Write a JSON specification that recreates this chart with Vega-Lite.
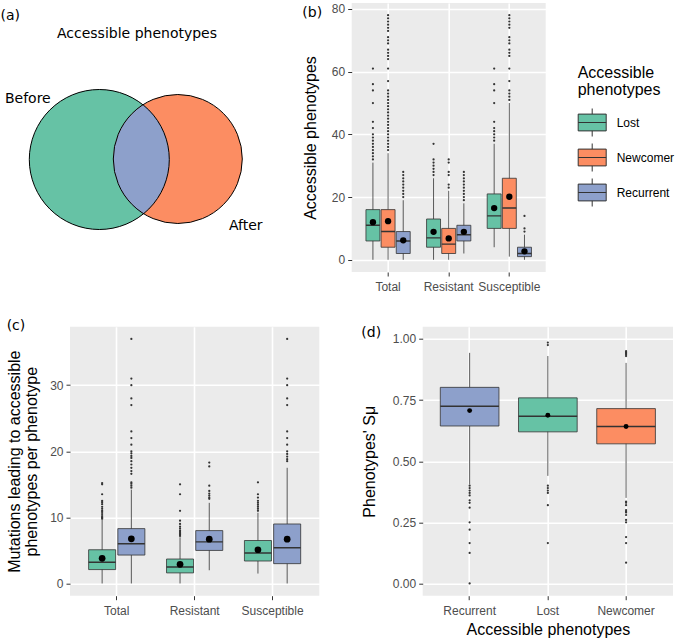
{
  "$schema": "https://vega.github.io/schema/vega-lite/v6.json",
  "background": "white",
  "padding": {"left": 0, "top": 2, "right": 0, "bottom": 0},
  "bounds": "flush",
  "spacing": 323.7,
  "resolve": {"scale": {"color": "independent", "x": "independent", "y": "independent", "size": "independent", "xOffset": "independent"}, "legend": {"color": "independent"}},
  "config": {
    "view": {"fill": "#EBEBEB", "stroke": null},
    "font": "Liberation Sans",
    "axis": {
      "domain": false,
      "tickColor": "#333333",
      "tickSize": 4,
      "tickWidth": 1,
      "labelColor": "#4D4D4D",
      "labelFont": "Liberation Sans",
      "labelFontSize": 12,
      "labelPadding": 3,
      "titleFont": "Liberation Sans",
      "titleFontSize": 16,
      "titleFontWeight": "normal",
      "titleColor": "black",
      "gridColor": "white"
    },
    "axisX": {"labelPadding": 5},
    "title": {"font": "DejaVu Sans", "fontSize": 14, "fontWeight": "normal", "color": "black", "anchor": "start", "frame": "bounds"}
  },
  "datasets": {
    "venn": [
      {"set": "Before", "cx": 0, "cy": 0, "r": 1},
      {"set": "After", "cx": 1.1214, "cy": 0.0071, "r": 0.9214}
    ],
    "venn_labels": [
      {"label": "Accessible phenotypes", "tx": 0.5386, "ty": 1.7929},
      {"label": "Before", "tx": -1.0214, "ty": 0.8643},
      {"label": "After", "tx": 2.0929, "ty": -0.95}
    ],
    "b_box": [
      {"category": "Total", "group": "Lost", "lower": 0, "q1": 6, "median": 11, "q3": 16, "upper": 31, "mean": 12.0},
      {"category": "Total", "group": "Newcomer", "lower": 0, "q1": 4, "median": 9, "q3": 16, "upper": 34, "mean": 12.3},
      {"category": "Total", "group": "Recurrent", "lower": 0, "q1": 2, "median": 6, "q3": 9, "upper": 19, "mean": 6.2},
      {"category": "Resistant", "group": "Lost", "lower": 0, "q1": 4, "median": 7, "q3": 13, "upper": 26, "mean": 8.9},
      {"category": "Resistant", "group": "Newcomer", "lower": 0, "q1": 2, "median": 5, "q3": 10, "upper": 22, "mean": 6.8},
      {"category": "Resistant", "group": "Recurrent", "lower": 2, "q1": 6, "median": 8, "q3": 11, "upper": 18, "mean": 8.9},
      {"category": "Susceptible", "group": "Lost", "lower": 4, "q1": 10, "median": 14, "q3": 21, "upper": 37, "mean": 16.5},
      {"category": "Susceptible", "group": "Newcomer", "lower": 1, "q1": 10, "median": 16.5, "q3": 26, "upper": 50, "mean": 20.1},
      {"category": "Susceptible", "group": "Recurrent", "lower": 0, "q1": 1, "median": 2, "q3": 4, "upper": 8, "mean": 2.7}
    ],
    "b_out": [
      {"category": "Total", "group": "Lost", "value": 32}, {"category": "Total", "group": "Lost", "value": 33}, {"category": "Total", "group": "Lost", "value": 34}, {"category": "Total", "group": "Lost", "value": 35}, {"category": "Total", "group": "Lost", "value": 36}, {"category": "Total", "group": "Lost", "value": 37}, {"category": "Total", "group": "Lost", "value": 38}, {"category": "Total", "group": "Lost", "value": 39}, {"category": "Total", "group": "Lost", "value": 40}, {"category": "Total", "group": "Lost", "value": 42}, {"category": "Total", "group": "Lost", "value": 44}, {"category": "Total", "group": "Lost", "value": 50}, {"category": "Total", "group": "Lost", "value": 54}, {"category": "Total", "group": "Lost", "value": 56}, {"category": "Total", "group": "Lost", "value": 61},
      {"category": "Total", "group": "Newcomer", "value": 35}, {"category": "Total", "group": "Newcomer", "value": 36}, {"category": "Total", "group": "Newcomer", "value": 37}, {"category": "Total", "group": "Newcomer", "value": 38}, {"category": "Total", "group": "Newcomer", "value": 39}, {"category": "Total", "group": "Newcomer", "value": 40}, {"category": "Total", "group": "Newcomer", "value": 41}, {"category": "Total", "group": "Newcomer", "value": 42}, {"category": "Total", "group": "Newcomer", "value": 43}, {"category": "Total", "group": "Newcomer", "value": 44}, {"category": "Total", "group": "Newcomer", "value": 45}, {"category": "Total", "group": "Newcomer", "value": 46}, {"category": "Total", "group": "Newcomer", "value": 47}, {"category": "Total", "group": "Newcomer", "value": 48}, {"category": "Total", "group": "Newcomer", "value": 49}, {"category": "Total", "group": "Newcomer", "value": 50}, {"category": "Total", "group": "Newcomer", "value": 51}, {"category": "Total", "group": "Newcomer", "value": 52}, {"category": "Total", "group": "Newcomer", "value": 53}, {"category": "Total", "group": "Newcomer", "value": 54}, {"category": "Total", "group": "Newcomer", "value": 57}, {"category": "Total", "group": "Newcomer", "value": 61}, {"category": "Total", "group": "Newcomer", "value": 64}, {"category": "Total", "group": "Newcomer", "value": 65}, {"category": "Total", "group": "Newcomer", "value": 66}, {"category": "Total", "group": "Newcomer", "value": 67}, {"category": "Total", "group": "Newcomer", "value": 69}, {"category": "Total", "group": "Newcomer", "value": 70}, {"category": "Total", "group": "Newcomer", "value": 71}, {"category": "Total", "group": "Newcomer", "value": 73}, {"category": "Total", "group": "Newcomer", "value": 74}, {"category": "Total", "group": "Newcomer", "value": 75}, {"category": "Total", "group": "Newcomer", "value": 76}, {"category": "Total", "group": "Newcomer", "value": 77}, {"category": "Total", "group": "Newcomer", "value": 78},
      {"category": "Total", "group": "Recurrent", "value": 20}, {"category": "Total", "group": "Recurrent", "value": 21}, {"category": "Total", "group": "Recurrent", "value": 22}, {"category": "Total", "group": "Recurrent", "value": 23}, {"category": "Total", "group": "Recurrent", "value": 24}, {"category": "Total", "group": "Recurrent", "value": 25}, {"category": "Total", "group": "Recurrent", "value": 26}, {"category": "Total", "group": "Recurrent", "value": 27}, {"category": "Total", "group": "Recurrent", "value": 28},
      {"category": "Resistant", "group": "Lost", "value": 27}, {"category": "Resistant", "group": "Lost", "value": 28}, {"category": "Resistant", "group": "Lost", "value": 29}, {"category": "Resistant", "group": "Lost", "value": 30}, {"category": "Resistant", "group": "Lost", "value": 31}, {"category": "Resistant", "group": "Lost", "value": 32}, {"category": "Resistant", "group": "Lost", "value": 37},
      {"category": "Resistant", "group": "Newcomer", "value": 23}, {"category": "Resistant", "group": "Newcomer", "value": 24}, {"category": "Resistant", "group": "Newcomer", "value": 27}, {"category": "Resistant", "group": "Newcomer", "value": 28}, {"category": "Resistant", "group": "Newcomer", "value": 31}, {"category": "Resistant", "group": "Newcomer", "value": 32},
      {"category": "Resistant", "group": "Recurrent", "value": 19}, {"category": "Resistant", "group": "Recurrent", "value": 20}, {"category": "Resistant", "group": "Recurrent", "value": 21}, {"category": "Resistant", "group": "Recurrent", "value": 22}, {"category": "Resistant", "group": "Recurrent", "value": 23}, {"category": "Resistant", "group": "Recurrent", "value": 24}, {"category": "Resistant", "group": "Recurrent", "value": 25}, {"category": "Resistant", "group": "Recurrent", "value": 26}, {"category": "Resistant", "group": "Recurrent", "value": 27}, {"category": "Resistant", "group": "Recurrent", "value": 28},
      {"category": "Susceptible", "group": "Lost", "value": 38}, {"category": "Susceptible", "group": "Lost", "value": 39}, {"category": "Susceptible", "group": "Lost", "value": 40}, {"category": "Susceptible", "group": "Lost", "value": 41}, {"category": "Susceptible", "group": "Lost", "value": 42}, {"category": "Susceptible", "group": "Lost", "value": 44}, {"category": "Susceptible", "group": "Lost", "value": 50}, {"category": "Susceptible", "group": "Lost", "value": 54}, {"category": "Susceptible", "group": "Lost", "value": 56}, {"category": "Susceptible", "group": "Lost", "value": 61},
      {"category": "Susceptible", "group": "Newcomer", "value": 51}, {"category": "Susceptible", "group": "Newcomer", "value": 52}, {"category": "Susceptible", "group": "Newcomer", "value": 53}, {"category": "Susceptible", "group": "Newcomer", "value": 54}, {"category": "Susceptible", "group": "Newcomer", "value": 57}, {"category": "Susceptible", "group": "Newcomer", "value": 61}, {"category": "Susceptible", "group": "Newcomer", "value": 65}, {"category": "Susceptible", "group": "Newcomer", "value": 66}, {"category": "Susceptible", "group": "Newcomer", "value": 67}, {"category": "Susceptible", "group": "Newcomer", "value": 69}, {"category": "Susceptible", "group": "Newcomer", "value": 70}, {"category": "Susceptible", "group": "Newcomer", "value": 71}, {"category": "Susceptible", "group": "Newcomer", "value": 74}, {"category": "Susceptible", "group": "Newcomer", "value": 75}, {"category": "Susceptible", "group": "Newcomer", "value": 76}, {"category": "Susceptible", "group": "Newcomer", "value": 77}, {"category": "Susceptible", "group": "Newcomer", "value": 78},
      {"category": "Susceptible", "group": "Recurrent", "value": 9}, {"category": "Susceptible", "group": "Recurrent", "value": 10}, {"category": "Susceptible", "group": "Recurrent", "value": 14}
    ],
    "c_box": [
      {"category": "Total", "group": "Lost", "lower": 0, "q1": 2.1, "median": 3.2, "q3": 5.1, "upper": 9.7, "mean": 3.8},
      {"category": "Total", "group": "Recurrent", "lower": 0, "q1": 4.3, "median": 6.0, "q3": 8.3, "upper": 14.2, "mean": 6.75},
      {"category": "Resistant", "group": "Lost", "lower": 0, "q1": 1.6, "median": 2.5, "q3": 3.7, "upper": 7.0, "mean": 2.9},
      {"category": "Resistant", "group": "Recurrent", "lower": 2.0, "q1": 5.0, "median": 6.3, "q3": 8.0, "upper": 12.2, "mean": 6.7},
      {"category": "Susceptible", "group": "Lost", "lower": 1.5, "q1": 3.4, "median": 4.6, "q3": 6.5, "upper": 10.7, "mean": 5.1},
      {"category": "Susceptible", "group": "Recurrent", "lower": 0, "q1": 3.0, "median": 5.4, "q3": 9.0, "upper": 17.5, "mean": 6.7}
    ],
    "c_out": [
      {"category": "Total", "group": "Lost", "value": 9.8}, {"category": "Total", "group": "Lost", "value": 10.0}, {"category": "Total", "group": "Lost", "value": 10.2}, {"category": "Total", "group": "Lost", "value": 10.5}, {"category": "Total", "group": "Lost", "value": 10.8}, {"category": "Total", "group": "Lost", "value": 11.0}, {"category": "Total", "group": "Lost", "value": 11.3}, {"category": "Total", "group": "Lost", "value": 11.6}, {"category": "Total", "group": "Lost", "value": 12.0}, {"category": "Total", "group": "Lost", "value": 12.3}, {"category": "Total", "group": "Lost", "value": 12.5}, {"category": "Total", "group": "Lost", "value": 13.5}, {"category": "Total", "group": "Lost", "value": 15.0}, {"category": "Total", "group": "Lost", "value": 15.2},
      {"category": "Total", "group": "Recurrent", "value": 14.5}, {"category": "Total", "group": "Recurrent", "value": 14.8}, {"category": "Total", "group": "Recurrent", "value": 15.1}, {"category": "Total", "group": "Recurrent", "value": 15.3}, {"category": "Total", "group": "Recurrent", "value": 16.6}, {"category": "Total", "group": "Recurrent", "value": 17.0}, {"category": "Total", "group": "Recurrent", "value": 17.5}, {"category": "Total", "group": "Recurrent", "value": 18.0}, {"category": "Total", "group": "Recurrent", "value": 18.5}, {"category": "Total", "group": "Recurrent", "value": 19.0}, {"category": "Total", "group": "Recurrent", "value": 19.3}, {"category": "Total", "group": "Recurrent", "value": 19.7}, {"category": "Total", "group": "Recurrent", "value": 20.0}, {"category": "Total", "group": "Recurrent", "value": 21.0}, {"category": "Total", "group": "Recurrent", "value": 22.0}, {"category": "Total", "group": "Recurrent", "value": 23.0}, {"category": "Total", "group": "Recurrent", "value": 27.0}, {"category": "Total", "group": "Recurrent", "value": 28.0}, {"category": "Total", "group": "Recurrent", "value": 30.0}, {"category": "Total", "group": "Recurrent", "value": 31.0}, {"category": "Total", "group": "Recurrent", "value": 37.0},
      {"category": "Resistant", "group": "Lost", "value": 7.2}, {"category": "Resistant", "group": "Lost", "value": 7.4}, {"category": "Resistant", "group": "Lost", "value": 7.6}, {"category": "Resistant", "group": "Lost", "value": 7.8}, {"category": "Resistant", "group": "Lost", "value": 8.0}, {"category": "Resistant", "group": "Lost", "value": 8.3}, {"category": "Resistant", "group": "Lost", "value": 8.6}, {"category": "Resistant", "group": "Lost", "value": 9.0}, {"category": "Resistant", "group": "Lost", "value": 9.5}, {"category": "Resistant", "group": "Lost", "value": 11.0}, {"category": "Resistant", "group": "Lost", "value": 13.5}, {"category": "Resistant", "group": "Lost", "value": 15.0},
      {"category": "Resistant", "group": "Recurrent", "value": 12.8}, {"category": "Resistant", "group": "Recurrent", "value": 13.0}, {"category": "Resistant", "group": "Recurrent", "value": 13.3}, {"category": "Resistant", "group": "Recurrent", "value": 13.6}, {"category": "Resistant", "group": "Recurrent", "value": 14.0}, {"category": "Resistant", "group": "Recurrent", "value": 14.8}, {"category": "Resistant", "group": "Recurrent", "value": 17.7}, {"category": "Resistant", "group": "Recurrent", "value": 18.3},
      {"category": "Susceptible", "group": "Lost", "value": 11.0}, {"category": "Susceptible", "group": "Lost", "value": 11.3}, {"category": "Susceptible", "group": "Lost", "value": 11.6}, {"category": "Susceptible", "group": "Lost", "value": 11.9}, {"category": "Susceptible", "group": "Lost", "value": 12.2}, {"category": "Susceptible", "group": "Lost", "value": 12.5}, {"category": "Susceptible", "group": "Lost", "value": 13.0}, {"category": "Susceptible", "group": "Lost", "value": 13.5}, {"category": "Susceptible", "group": "Lost", "value": 15.3},
      {"category": "Susceptible", "group": "Recurrent", "value": 18.5}, {"category": "Susceptible", "group": "Recurrent", "value": 18.8}, {"category": "Susceptible", "group": "Recurrent", "value": 19.2}, {"category": "Susceptible", "group": "Recurrent", "value": 19.6}, {"category": "Susceptible", "group": "Recurrent", "value": 20.0}, {"category": "Susceptible", "group": "Recurrent", "value": 21.0}, {"category": "Susceptible", "group": "Recurrent", "value": 22.0}, {"category": "Susceptible", "group": "Recurrent", "value": 23.0}, {"category": "Susceptible", "group": "Recurrent", "value": 27.0}, {"category": "Susceptible", "group": "Recurrent", "value": 28.0}, {"category": "Susceptible", "group": "Recurrent", "value": 30.0}, {"category": "Susceptible", "group": "Recurrent", "value": 31.0}, {"category": "Susceptible", "group": "Recurrent", "value": 37.0}
    ],
    "d_box": [
      {"group": "Recurrent", "lower": 0.405, "q1": 0.644, "median": 0.725, "q3": 0.802, "upper": 0.943, "mean": 0.707},
      {"group": "Lost", "lower": 0.44, "q1": 0.62, "median": 0.684, "q3": 0.759, "upper": 0.93, "mean": 0.688},
      {"group": "Newcomer", "lower": 0.35, "q1": 0.571, "median": 0.642, "q3": 0.715, "upper": 0.902, "mean": 0.642}
    ],
    "d_out": [
      {"group": "Recurrent", "value": 0.40}, {"group": "Recurrent", "value": 0.39}, {"group": "Recurrent", "value": 0.38}, {"group": "Recurrent", "value": 0.37}, {"group": "Recurrent", "value": 0.36}, {"group": "Recurrent", "value": 0.34}, {"group": "Recurrent", "value": 0.33}, {"group": "Recurrent", "value": 0.31}, {"group": "Recurrent", "value": 0.25}, {"group": "Recurrent", "value": 0.22}, {"group": "Recurrent", "value": 0.165}, {"group": "Recurrent", "value": 0.125}, {"group": "Recurrent", "value": 0.0},
      {"group": "Lost", "value": 0.975}, {"group": "Lost", "value": 0.985}, {"group": "Lost", "value": 0.40}, {"group": "Lost", "value": 0.39}, {"group": "Lost", "value": 0.38}, {"group": "Lost", "value": 0.37}, {"group": "Lost", "value": 0.32}, {"group": "Lost", "value": 0.165},
      {"group": "Newcomer", "value": 0.93}, {"group": "Newcomer", "value": 0.935}, {"group": "Newcomer", "value": 0.94}, {"group": "Newcomer", "value": 0.945}, {"group": "Newcomer", "value": 0.95}, {"group": "Newcomer", "value": 0.335}, {"group": "Newcomer", "value": 0.33}, {"group": "Newcomer", "value": 0.32}, {"group": "Newcomer", "value": 0.30}, {"group": "Newcomer", "value": 0.295}, {"group": "Newcomer", "value": 0.29}, {"group": "Newcomer", "value": 0.28}, {"group": "Newcomer", "value": 0.26}, {"group": "Newcomer", "value": 0.25}, {"group": "Newcomer", "value": 0.19}, {"group": "Newcomer", "value": 0.165}, {"group": "Newcomer", "value": 0.085}
    ]
  },
  "vconcat": [
    {
      "bounds": "flush",
      "spacing": 102.7,
      "resolve": {"scale": {"color": "independent", "x": "independent", "y": "independent", "size": "independent", "xOffset": "independent"}, "legend": {"color": "independent"}},
      "hconcat": [
        {
          "title": {"text": "(a)", "offset": -20, "dx": -4.4},
          "width": 178.6,
          "height": 269,
          "view": {"fill": null, "stroke": null},
          "layer": [
            {
              "data": {"name": "venn"},
              "mark": {"type": "point", "shape": "circle", "filled": true, "opacity": 1, "strokeWidth": 0},
              "encoding": {
                "x": {"field": "cx", "type": "quantitative", "scale": {"domain": [-0.4186, 2.1329], "nice": false, "zero": false}, "axis": null},
                "y": {"field": "cy", "type": "quantitative", "scale": {"domain": [-1.6071, 2.2357], "nice": false, "zero": false}, "axis": null},
                "size": {"field": "r", "type": "quantitative", "scale": {"type": "pow", "exponent": 2, "domain": [0, 1], "range": [0, 19600]}, "legend": null},
                "color": {"field": "set", "type": "nominal", "scale": {"domain": ["Before", "After"], "range": ["#66C2A5", "#FC8D62"]}, "legend": null}
              }
            },
            {
              "data": {"values": [{"part": "Before and After", "cx": 0.628, "cy": 0.0036}]},
              "mark": {"type": "point", "shape": "M0,-54.48A64.5,64.5,0,0,0,0,54.48A70,70,0,0,0,0,-54.48Z", "size": 4, "filled": true, "fill": "#8DA0CB", "opacity": 1, "strokeWidth": 0},
              "encoding": {
                "x": {"field": "cx", "type": "quantitative", "scale": {"domain": [-0.4186, 2.1329], "nice": false, "zero": false}, "axis": null},
                "y": {"field": "cy", "type": "quantitative", "scale": {"domain": [-1.6071, 2.2357], "nice": false, "zero": false}, "axis": null}
              }
            },
            {
              "data": {"name": "venn"},
              "mark": {"type": "point", "shape": "circle", "filled": false, "color": "black", "strokeWidth": 1, "opacity": 1},
              "encoding": {
                "x": {"field": "cx", "type": "quantitative", "scale": {"domain": [-0.4186, 2.1329], "nice": false, "zero": false}, "axis": null},
                "y": {"field": "cy", "type": "quantitative", "scale": {"domain": [-1.6071, 2.2357], "nice": false, "zero": false}, "axis": null},
                "size": {"field": "r", "type": "quantitative", "scale": {"type": "pow", "exponent": 2, "domain": [0, 1], "range": [0, 19600]}, "legend": null}
              }
            },
            {
              "data": {"name": "venn_labels"},
              "mark": {"type": "text", "font": "DejaVu Sans", "fontSize": 14, "color": "black", "align": "center", "baseline": "middle"},
              "encoding": {
                "x": {"field": "tx", "type": "quantitative", "scale": {"domain": [-0.4186, 2.1329], "nice": false, "zero": false}, "axis": null},
                "y": {"field": "ty", "type": "quantitative", "scale": {"domain": [-1.6071, 2.2357], "nice": false, "zero": false}, "axis": null},
                "text": {"field": "label", "type": "nominal"}
              }
            }
          ]
        },
        {
          "title": {"text": "(b)", "offset": -17},
          "width": 194,
          "height": 269,
          "encoding": {
            "x": {"field": "category", "type": "nominal", "title": null, "scale": {"domain": ["Total", "Resistant", "Susceptible"], "paddingInner": 0.25, "paddingOuter": 0.225},
                  "axis": {"bandPosition": 0.5, "grid": true, "gridWidth": 1.6, "labelAngle": 0}},
            "xOffset": {"field": "group", "type": "nominal", "scale": {"domain": ["Lost", "Newcomer", "Recurrent"], "paddingInner": 0.08, "paddingOuter": 0.04}}
          },
          "layer": [
            {
              "data": {"name": "b_box"},
              "mark": {"type": "rule", "color": "#333333", "strokeWidth": 0.8},
              "encoding": {
                "y": {"field": "lower", "type": "quantitative", "title": "Accessible phenotypes",
                      "scale": {"domain": [-3.9, 81.9], "nice": false, "zero": false},
                      "axis": {"values": [0, 10, 20, 30, 40, 50, 60, 70, 80], "titlePadding": 13,
                               "labelExpr": "datum.value % 20 === 0 ? datum.label : ''",
                               "gridWidth": {"condition": {"test": "datum.value % 20 === 0", "value": 1.6}, "value": 0.7},
                               "tickOpacity": {"condition": {"test": "datum.value % 20 === 0", "value": 1}, "value": 0}}},
                "y2": {"field": "upper"}
              }
            },
            {
              "data": {"name": "b_box"},
              "mark": {"type": "bar", "stroke": "#333333", "strokeWidth": 0.8, "opacity": 1},
              "encoding": {
                "y": {"field": "q1", "type": "quantitative", "title": "Accessible phenotypes"},
                "y2": {"field": "q3"},
                "color": {"field": "group", "type": "nominal",
                          "scale": {"domain": ["Lost", "Newcomer", "Recurrent"], "range": ["#66C2A5", "#FC8D62", "#8DA0CB"]},
                          "legend": {"orient": "none", "legendX": 226, "legendY": 62, "title": ["Accessible", "phenotypes"],
                                     "titleFont": "Liberation Sans", "titleFontSize": 16, "titleFontWeight": "normal", "titleColor": "black",
                                     "titleLineHeight": 17, "titlePadding": 10,
                                     "labelFont": "Liberation Sans", "labelFontSize": 12, "labelColor": "black", "labelOffset": 10,
                                     "symbolType": "M-1,-0.6H1V0.6H-1Z M-1,0H1 M0,-1V-0.6 M0,0.6V1",
                                     "symbolSize": 784, "symbolStrokeColor": "#333333", "symbolStrokeWidth": 1, "symbolOpacity": 1,
                                     "rowPadding": 2}}
              }
            },
            {
              "data": {"name": "b_box"},
              "mark": {"type": "bar", "fillOpacity": 0, "stroke": "#333333", "strokeWidth": 1.4},
              "encoding": {
                "y": {"field": "median", "type": "quantitative", "title": "Accessible phenotypes"},
                "y2": {"field": "median"}
              }
            },
            {
              "data": {"name": "b_out"},
              "mark": {"type": "point", "filled": true, "color": "#333333", "size": 5, "opacity": 1},
              "encoding": {
                "y": {"field": "value", "type": "quantitative", "title": "Accessible phenotypes"}
              }
            },
            {
              "data": {"name": "b_box"},
              "mark": {"type": "point", "filled": true, "color": "black", "size": 40, "opacity": 1},
              "encoding": {
                "y": {"field": "mean", "type": "quantitative", "title": "Accessible phenotypes"}
              }
            }
          ]
        }
      ]
    },
    {
      "bounds": "flush",
      "spacing": 102.7,
      "resolve": {"scale": {"color": "independent", "x": "independent", "y": "independent", "xOffset": "independent"}, "legend": {"color": "independent"}},
      "hconcat": [
        {
          "title": {"text": "(c)", "offset": -6},
          "width": 249.3,
          "height": 269,
          "encoding": {
            "x": {"field": "category", "type": "nominal", "title": null, "scale": {"domain": ["Total", "Resistant", "Susceptible"], "paddingInner": 0.25, "paddingOuter": 0.225},
                  "axis": {"bandPosition": 0.5, "grid": true, "gridWidth": 1.6, "labelAngle": 0, "labelPadding": 6}},
            "xOffset": {"field": "group", "type": "nominal", "scale": {"domain": ["Lost", "Recurrent"], "paddingInner": 0.075, "paddingOuter": 0.0375}}
          },
          "layer": [
            {
              "data": {"name": "c_box"},
              "mark": {"type": "rule", "color": "#333333", "strokeWidth": 0.8},
              "encoding": {
                "y": {"field": "lower", "type": "quantitative", "title": ["Mutations leading to accessible", "phenotypes per phenotype"],
                      "scale": {"domain": [-1.85, 38.85], "nice": false, "zero": false},
                      "axis": {"values": [0, 5, 10, 15, 20, 25, 30, 35], "titlePadding": 10, "titleLineHeight": 17,
                               "labelExpr": "datum.value % 10 === 0 ? datum.label : ''",
                               "gridWidth": {"condition": {"test": "datum.value % 10 === 0", "value": 1.6}, "value": 0.7},
                               "tickOpacity": {"condition": {"test": "datum.value % 10 === 0", "value": 1}, "value": 0}}},
                "y2": {"field": "upper"}
              }
            },
            {
              "data": {"name": "c_box"},
              "mark": {"type": "bar", "stroke": "#333333", "strokeWidth": 0.8, "opacity": 1},
              "encoding": {
                "y": {"field": "q1", "type": "quantitative", "title": ["Mutations leading to accessible", "phenotypes per phenotype"]},
                "y2": {"field": "q3"},
                "color": {"field": "group", "type": "nominal",
                          "scale": {"domain": ["Lost", "Recurrent"], "range": ["#66C2A5", "#8DA0CB"]}, "legend": null}
              }
            },
            {
              "data": {"name": "c_box"},
              "mark": {"type": "bar", "fillOpacity": 0, "stroke": "#333333", "strokeWidth": 1.4},
              "encoding": {
                "y": {"field": "median", "type": "quantitative", "title": ["Mutations leading to accessible", "phenotypes per phenotype"]},
                "y2": {"field": "median"}
              }
            },
            {
              "data": {"name": "c_out"},
              "mark": {"type": "point", "filled": true, "color": "#333333", "size": 5, "opacity": 1},
              "encoding": {
                "y": {"field": "value", "type": "quantitative", "title": ["Mutations leading to accessible", "phenotypes per phenotype"]}
              }
            },
            {
              "data": {"name": "c_box"},
              "mark": {"type": "point", "filled": true, "color": "black", "size": 45, "opacity": 1},
              "encoding": {
                "y": {"field": "mean", "type": "quantitative", "title": ["Mutations leading to accessible", "phenotypes per phenotype"]}
              }
            }
          ]
        },
        {
          "title": {"text": "(d)", "offset": -13},
          "width": 250.3,
          "height": 269,
          "encoding": {
            "x": {"field": "group", "type": "nominal", "title": "Accessible phenotypes", "scale": {"domain": ["Recurrent", "Lost", "Newcomer"], "paddingInner": 0.25, "paddingOuter": 0.225},
                  "axis": {"bandPosition": 0.5, "grid": true, "gridWidth": 1.6, "labelAngle": 0, "labelPadding": 6, "titlePadding": 5}}
          },
          "layer": [
            {
              "data": {"name": "d_box"},
              "mark": {"type": "rule", "color": "#333333", "strokeWidth": 0.8},
              "encoding": {
                "y": {"field": "lower", "type": "quantitative", "title": "Phenotypes' Sμ",
                      "scale": {"domain": [-0.05, 1.05], "nice": false, "zero": false},
                      "axis": {"values": [0, 0.125, 0.25, 0.375, 0.5, 0.625, 0.75, 0.875, 1], "format": ".2f", "titlePadding": 15,
                               "labelExpr": "round(datum.value * 8) % 2 === 0 ? datum.label : ''",
                               "gridWidth": {"condition": {"test": "round(datum.value * 8) % 2 === 0", "value": 1.6}, "value": 0.7},
                               "tickOpacity": {"condition": {"test": "round(datum.value * 8) % 2 === 0", "value": 1}, "value": 0}}},
                "y2": {"field": "upper"}
              }
            },
            {
              "data": {"name": "d_box"},
              "mark": {"type": "bar", "stroke": "#333333", "strokeWidth": 0.8, "opacity": 1},
              "encoding": {
                "y": {"field": "q1", "type": "quantitative", "title": "Phenotypes' Sμ"},
                "y2": {"field": "q3"},
                "color": {"field": "group", "type": "nominal",
                          "scale": {"domain": ["Lost", "Newcomer", "Recurrent"], "range": ["#66C2A5", "#FC8D62", "#8DA0CB"]}, "legend": null}
              }
            },
            {
              "data": {"name": "d_box"},
              "mark": {"type": "bar", "fillOpacity": 0, "stroke": "#333333", "strokeWidth": 1.4},
              "encoding": {
                "y": {"field": "median", "type": "quantitative", "title": "Phenotypes' Sμ"},
                "y2": {"field": "median"}
              }
            },
            {
              "data": {"name": "d_out"},
              "mark": {"type": "point", "filled": true, "color": "#333333", "size": 5, "opacity": 1},
              "encoding": {
                "y": {"field": "value", "type": "quantitative", "title": "Phenotypes' Sμ"}
              }
            },
            {
              "data": {"name": "d_box"},
              "mark": {"type": "point", "filled": true, "color": "black", "size": 24, "opacity": 1},
              "encoding": {
                "y": {"field": "mean", "type": "quantitative", "title": "Phenotypes' Sμ"}
              }
            }
          ]
        }
      ]
    }
  ]
}
